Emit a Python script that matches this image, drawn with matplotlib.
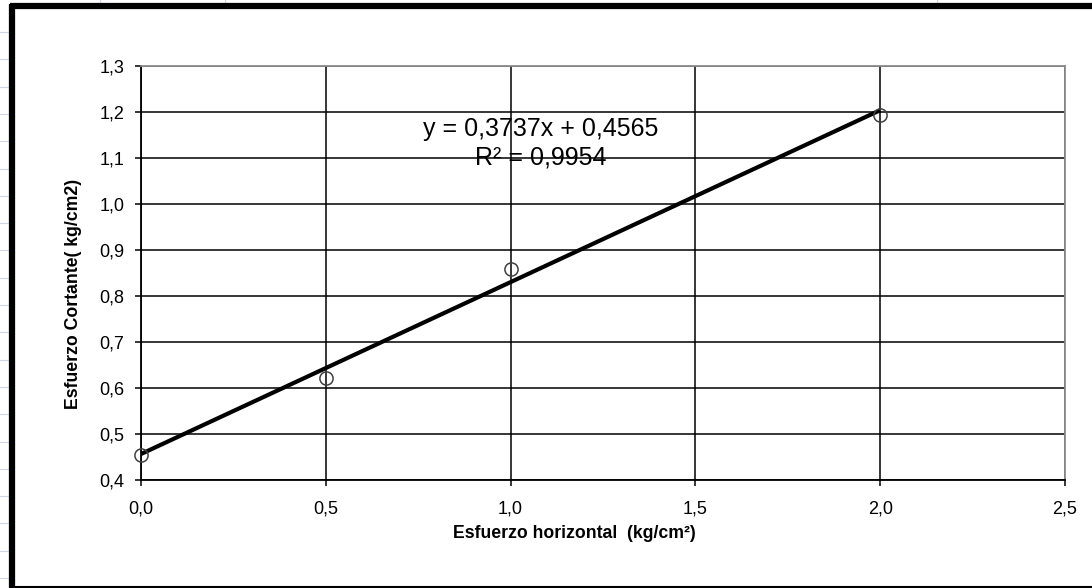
import matplotlib
matplotlib.use("Agg")
import matplotlib.pyplot as plt
from matplotlib.lines import Line2D
import numpy as np

# ---- data ----
x_vals = [0.0, 0.5, 1.0, 2.0]
y_vals = [0.455, 0.622, 0.859, 1.193]
trend_slope = 0.3737
trend_intercept = 0.4565
r_squared = 0.9954
x_ticks = [0.0, 0.5, 1.0, 1.5, 2.0, 2.5]
y_ticks = [0.4, 0.5, 0.6, 0.7, 0.8, 0.9, 1.0, 1.1, 1.2, 1.3]
x_label = "Esfuerzo horizontal  (kg/cm²)"
y_label = "Esfuerzo Cortante( kg/cm2)"

def comma(v, nd):
    return f"{v:.{nd}f}".replace(".", ",")

plt.rcParams['font.family'] = ['Liberation Sans', 'DejaVu Sans']

W, H = 1092, 588
fig = plt.figure(figsize=(W / 100, H / 100), dpi=100)
fig.patch.set_facecolor("white")

def fx(px):
    return px / W

def fy(py):
    return 1 - py / H

# spreadsheet background gridlines (left margin)
for k in range(21):
    yy = 32 + 27.3 * k
    if yy > H:
        break
    fig.add_artist(Line2D([fx(0), fx(9)], [fy(yy), fy(yy)], color="#cdd5e6", lw=0.8))
for xx in [100, 225, 937]:
    fig.add_artist(Line2D([fx(xx), fx(xx)], [fy(0), fy(3)], color="#cdd5e6", lw=0.8))

# chart border
fig.add_artist(Line2D([fx(12), fx(12)], [fy(4), fy(H)], color="black", lw=4.5, solid_capstyle="butt"))
fig.add_artist(Line2D([fx(9.5), fx(W)], [fy(6), fy(6)], color="black", lw=4.5, solid_capstyle="butt"))
fig.add_artist(Line2D([fx(9.5), fx(W)], [fy(586.5), fy(586.5)], color="black", lw=1.5, solid_capstyle="butt"))

# plot area
left, right, top, bottom = 141, 1065, 66, 480
ax = fig.add_axes([fx(left), fy(bottom), fx(right - left), (bottom - top) / H])
ax.set_xlim(0, 2.5)
ax.set_ylim(0.4, 1.3)
ax.set_xticks(x_ticks)
ax.set_yticks(y_ticks)
ax.set_xticklabels([comma(v, 1) for v in x_ticks])
ax.set_yticklabels([comma(v, 1) for v in y_ticks])
ax.grid(True, color="black", lw=1.1)
ax.set_axisbelow(True)
ax.tick_params(axis="both", direction="out", length=4, width=1.1, labelsize=13, colors="black")
ax.tick_params(axis="x", pad=11)
ax.tick_params(axis="y", pad=8)
for s in ["left", "bottom"]:
    ax.spines[s].set_color("black")
    ax.spines[s].set_linewidth(1.3)
for s in ["top", "right"]:
    ax.spines[s].set_color("#8c8c8c")
    ax.spines[s].set_linewidth(1.3)

# trendline over the data range
xt = np.array([min(x_vals), max(x_vals)])
ax.plot(xt, trend_slope * xt + trend_intercept, color="black", lw=3, zorder=3, solid_capstyle="butt")
ax.plot(x_vals, y_vals, linestyle="none", marker="o", markersize=9.5, clip_on=False,
        markerfacecolor="none", markeredgecolor="#404040", markeredgewidth=1.1, zorder=4)

# equation
fig.text(fx(541), fy(129), f"y = {comma(trend_slope, 4)}x + {comma(trend_intercept, 4)}",
         ha="center", va="center", fontsize=18)
fig.text(fx(541), fy(157), f"R² = {comma(r_squared, 4)}",
         ha="center", va="center", fontsize=18)

# axis labels
fig.text(fx(574), fy(533), x_label, ha="center", va="center", fontsize=12.7, fontweight="bold")
fig.text(fx(73), fy(294), y_label, ha="center", va="center", rotation=90, fontsize=12.7, fontweight="bold")

fig.savefig("out.png", dpi=100)
